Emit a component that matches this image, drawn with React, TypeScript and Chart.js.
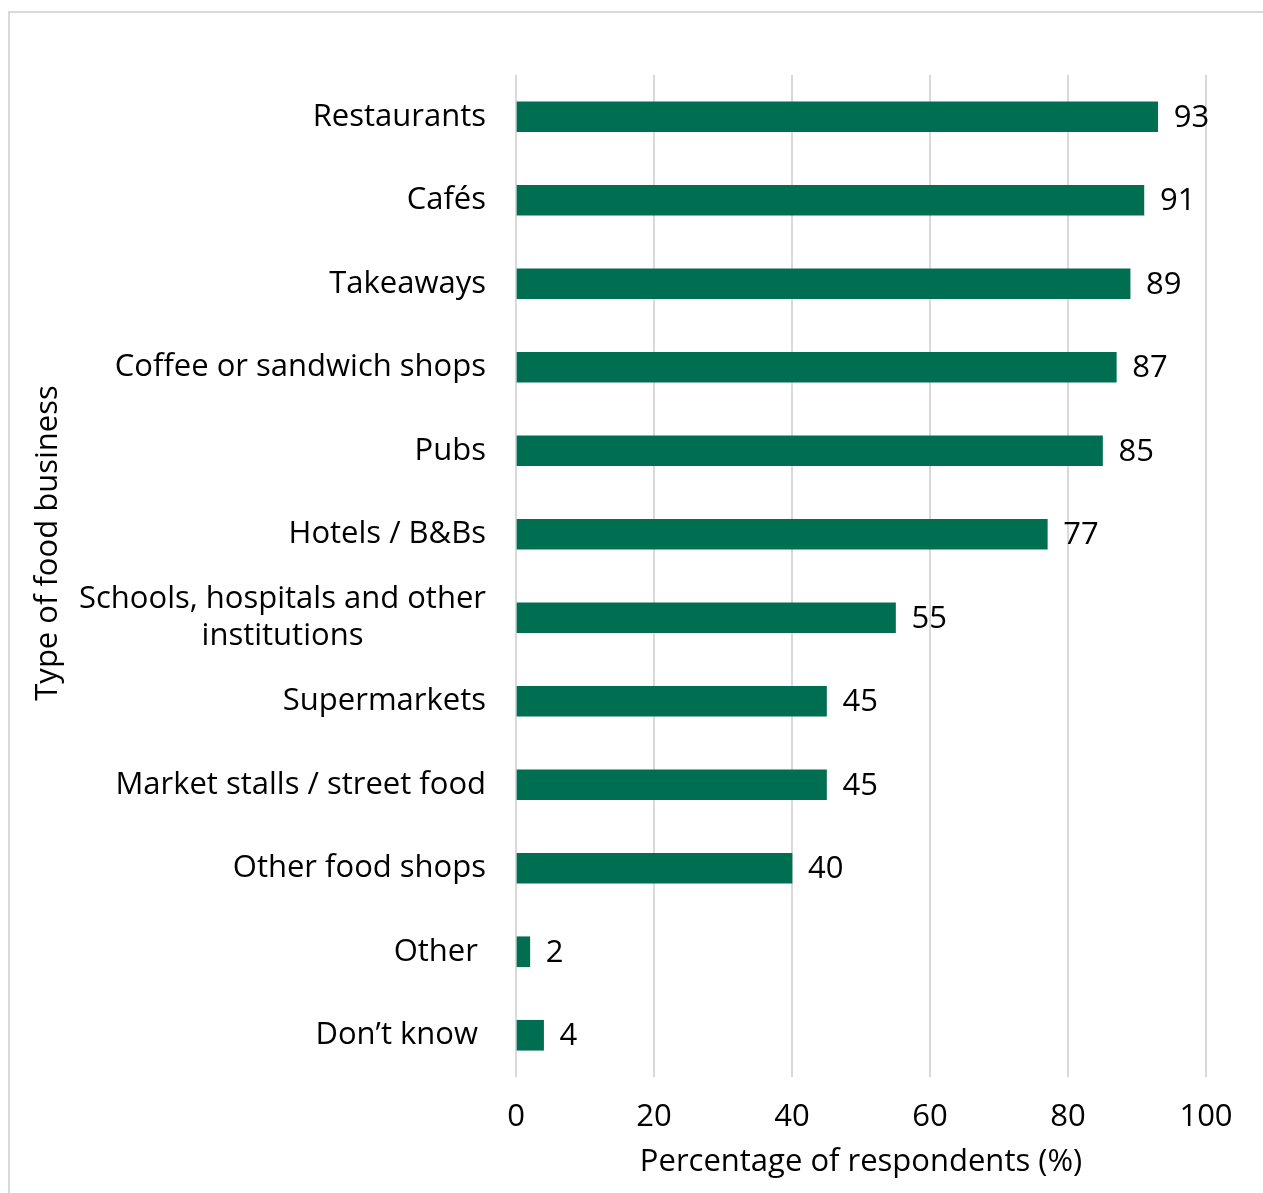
import React, { useEffect, useRef } from "react";
import { Chart, registerables } from "chart.js";

Chart.register(...registerables);

const categories: string[] = [
  "Restaurants",
  "Cafés",
  "Takeaways",
  "Coffee or sandwich shops",
  "Pubs",
  "Hotels / B&Bs",
  "Schools, hospitals and other\ninstitutions",
  "Supermarkets",
  "Market stalls / street food",
  "Other food shops",
  "Other ",
  "Don’t know ",
];
const percentages: number[] = [93, 91, 89, 87, 85, 77, 55, 45, 45, 40, 2, 4];
const xTicks: number[] = [0, 20, 40, 60, 80, 100];
const xTitle = "Percentage of respondents (%)";
const yTitle = "Type of food business";

const FONT_FAMILY = "'Open Sans', 'Noto Sans', sans-serif";
const FONT_SIZE = 31;
const BAR_COLOR = "#006F51";
const GRID_COLOR = "#D9D9D9";

export default function App() {
  const canvasRef = useRef<HTMLCanvasElement | null>(null);

  useEffect(() => {
    const canvas = canvasRef.current;
    if (!canvas) return;

    const valueLabels = {
      id: "valueLabels",
      afterDatasetsDraw(chart: any) {
        const ctx = chart.ctx;
        const meta = chart.getDatasetMeta(0);
        ctx.save();
        ctx.font = `${FONT_SIZE}px ${FONT_FAMILY}`;
        ctx.fillStyle = "#000";
        ctx.textAlign = "left";
        ctx.textBaseline = "middle";
        meta.data.forEach((bar: any, i: number) => {
          ctx.fillText(String(percentages[i]), bar.x + 16, bar.y + 1);
        });
        ctx.restore();
      },
    };

    const categoryLabels = {
      id: "categoryLabels",
      afterDraw(chart: any) {
        const ctx = chart.ctx;
        const y = chart.scales.y;
        const right = chart.chartArea.left - 30;
        const lineH = 37;
        ctx.save();
        ctx.font = `${FONT_SIZE}px ${FONT_FAMILY}`;
        ctx.fillStyle = "#000";
        ctx.textBaseline = "middle";
        categories.forEach((label, i) => {
          const lines = label.split("\n");
          const widths = lines.map((l) => ctx.measureText(l).width);
          const blockW = Math.max(...widths);
          const cy = y.getPixelForTick(i);
          const startY = cy - ((lines.length - 1) * lineH) / 2;
          lines.forEach((line, j) => {
            ctx.textAlign = "center";
            ctx.fillText(line, right - blockW / 2, startY + j * lineH);
          });
        });
        // rotated y-axis title
        const ca = chart.chartArea;
        ctx.translate(38, (ca.top + ca.bottom) / 2 - 33);
        ctx.rotate(-Math.PI / 2);
        ctx.textAlign = "center";
        ctx.fillText(yTitle, 0, 0);
        ctx.restore();
      },
    };

    const chart = new Chart(canvas, {
      type: "bar",
      data: {
        labels: categories,
        datasets: [
          {
            data: percentages,
            backgroundColor: BAR_COLOR,
            borderWidth: 0,
            barThickness: 30,
          },
        ],
      },
      options: {
        indexAxis: "y",
        responsive: false,
        animation: false,
        layout: { padding: { top: 62, right: 57, left: 0, bottom: 0 } },
        plugins: {
          legend: { display: false },
          tooltip: { enabled: false },
          title: { display: false },
        },
        scales: {
          x: {
            position: "bottom",
            min: 0,
            max: 100,
            afterBuildTicks: (scale: any) => {
              scale.ticks = xTicks.map((v) => ({ value: v }));
            },
            afterFit: (scale: any) => {
              scale.height = 116;
            },
            grid: {
              color: GRID_COLOR,
              lineWidth: 2,
              drawTicks: false,
            },
            border: { display: false },
            ticks: {
              color: "#000",
              padding: 22,
              font: { size: FONT_SIZE, family: FONT_FAMILY },
            },
            title: {
              display: true,
              text: xTitle,
              color: "#000",
              padding: { top: 6, bottom: 12 },
              font: { size: FONT_SIZE, family: FONT_FAMILY },
            },
          },
          y: {
            afterFit: (scale: any) => {
              scale.width = 506;
            },
            grid: { display: false },
            border: { display: false },
            ticks: { display: false },
          },
        },
      },
      plugins: [valueLabels, categoryLabels],
    });

    return () => {
      chart.destroy();
    };
  }, []);

  return (
    <div
      style={{
        position: "absolute",
        left: 8,
        top: 11,
        width: 1255,
        height: 1182,
        boxSizing: "border-box",
        borderTop: `2px solid ${GRID_COLOR}`,
        borderLeft: `2px solid ${GRID_COLOR}`,
        overflow: "hidden",
        background: "#fff",
      }}
    >
      <canvas ref={canvasRef} width={1253} height={1180} style={{ display: "block" }} />
    </div>
  );
}
